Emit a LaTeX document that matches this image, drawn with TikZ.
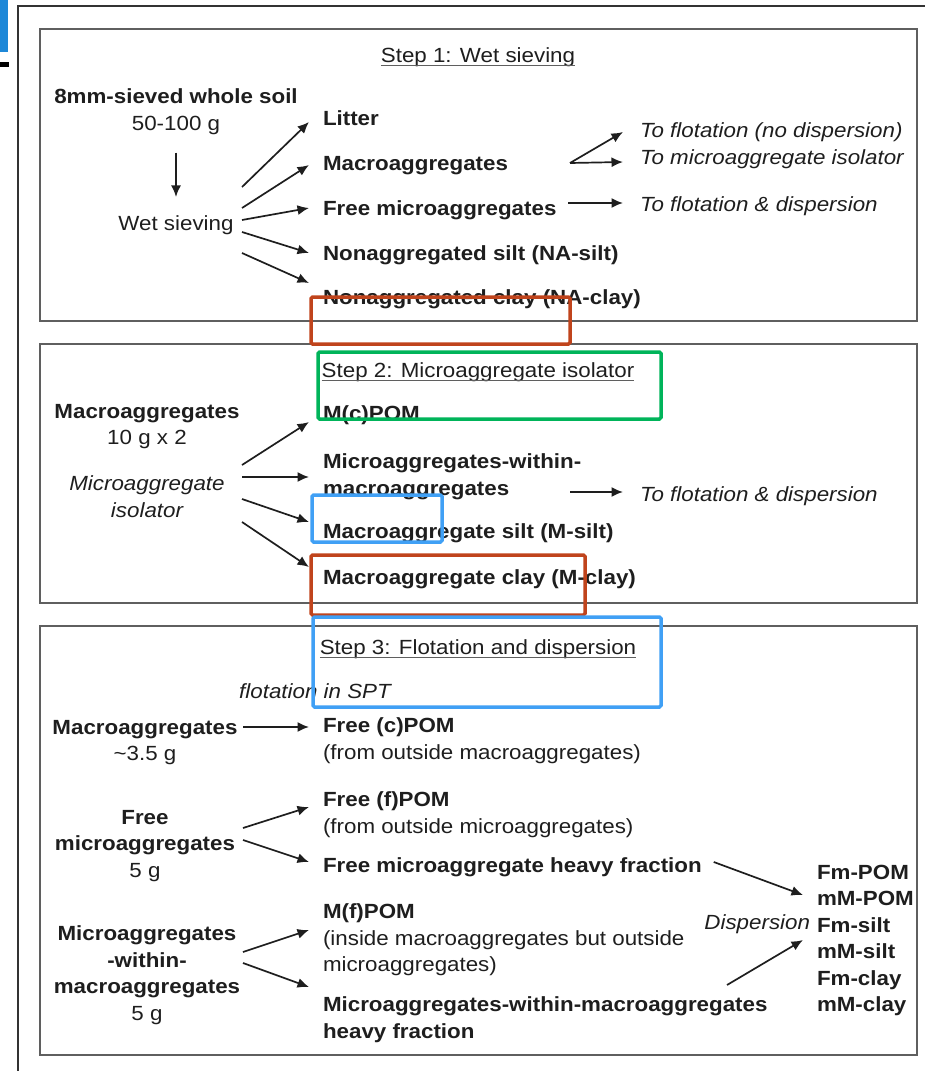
\documentclass[tikz,border=0pt]{standalone}
\usepackage{fontspec}
\setmainfont{Liberation Sans}[FakeStretch=1.09]
\usetikzlibrary{arrows.meta,positioning}

\definecolor{boxgray}{RGB}{95,95,95}
\definecolor{inkgray}{RGB}{30,30,30}
\definecolor{markred}{RGB}{192,68,28}
\definecolor{markgreen}{RGB}{0,180,90}
\definecolor{markblue}{RGB}{64,160,245}
\definecolor{tabblue}{RGB}{30,136,216}

\newcommand{\fsz}{\fontsize{20.5}{26.5}\selectfont}

\begin{document}
\begin{tikzpicture}[x=1pt,y=-1pt,line width=1.7pt]
\tikzstyle{every node} = [inner sep=0pt, outer sep=0pt, font=\fsz, text=inkgray]
\tikzstyle{txt} = [text height=18.8pt, text depth=4.3pt]
\tikzstyle{steptitle} = [text height=18.3pt, text depth=2.5pt]
\tikzstyle{lbl} = [txt, anchor=west, inner xsep=14pt, font=\fsz\bfseries]
\tikzstyle{lblm} = [anchor=north west, align=left, inner xsep=14pt]
\tikzstyle{src} = [anchor=north, align=center]
\tikzstyle{dest} = [txt, anchor=west, inner xsep=14pt, font=\fsz\itshape]
\tikzstyle{fracs} = [anchor=north west, align=left, font=\fsz\bfseries]
\tikzstyle{arr} = [-{Latex[length=11.5pt,width=10pt]}, draw=inkgray]
\tikzstyle{frame} = [draw=boxgray, line width=1.6pt]
\tikzstyle{hilite} = [line width=3.5pt, rounded corners=1.5pt]
\useasboundingbox (0,0) rectangle (925,1071);

% page edge
\fill[tabblue] (0,0) rectangle (8,52);
\fill[black] (0,62) rectangle (9,67);
\draw[line width=1.5pt, black!80] (18,1071) -- (18,6) -- (925,6);

% the three steps
\draw[frame] (40,29) rectangle (917,321);
\draw[frame] (40,344) rectangle (917,603);
\draw[frame] (40,626) rectangle (917,1055);

% step 1
\node[steptitle] (t1) at (478,55) {Step 1: Wet sieving};
\draw[line width=1.2pt, boxgray] (t1.south west) -- (t1.south east);
\node[src] (soil) at (176,89) {\textbf{8mm-sieved whole soil}\\50-100 g};
\node[txt] (wet) at (176,223) {Wet sieving};
\node[lbl] (litter) at (309,118) {Litter};
\node[lbl] (macro) at (309,163) {Macroaggregates};
\node[lbl] (freemic) at (309,208) {Free microaggregates};
\node[lbl] (nasilt) at (309,253) {Nonaggregated silt (NA-silt)};
\node[lbl] (naclay) at (309,297) {Nonaggregated clay (NA-clay)};
\node[dest] (toflot) at (626,130) {To flotation (no dispersion)};
\node[dest] (toiso) at (626,157) {To microaggregate isolator};
\node[dest] (tofd) at (626,204) {To flotation \& dispersion};
\coordinate (w1) at (242,187);
\coordinate (w2) at (242,208);
\coordinate (w3) at (242,220);
\coordinate (w4) at (242,232);
\coordinate (w5) at (242,253);
\coordinate (m1) at (570,163);
\coordinate (f1) at (568,203);

\draw[arr, shorten <=18pt, shorten >=14.5pt] (soil.south) -- (wet.north);
\draw[arr] (w1) -- ([yshift=-4pt]litter.west);
\draw[arr] (w2) -- ([yshift=-2pt]macro.west);
\draw[arr] (w3) -- (freemic.west);
\draw[arr] (w4) -- (nasilt.west);
\draw[arr] (w5) -- ([yshift=14pt]naclay.west);
\draw[arr] (m1) -- ([xshift=-3pt,yshift=-2pt]toflot.west);
\draw[arr] (m1) -- ([xshift=-3pt,yshift=-5pt]toiso.west);
\draw[arr] (f1) -- ([xshift=-3pt,yshift=1pt]tofd.west);

% step 2
\node[steptitle] (t2) at (478,370) {Step 2: Microaggregate isolator};
\draw[line width=1.2pt, boxgray] (t2.south west) -- (t2.south east);
\node[src] (mac2) at (147,404) {\textbf{Macroaggregates}\\10 g x 2};
\node[src, font=\fsz\itshape] (iso) at (147,476) {Microaggregate\\isolator};
\node[lbl] (mcpom) at (309,413) {M(c)POM};
\node[lblm] (mwm) at (309,454) {\textbf{Microaggregates-within-}\\\textbf{macroaggregates}};
\node[lbl] (msilt) at (309,531) {Macroaggregate silt (M-silt)};
\node[lbl] (mclay) at (309,577) {Macroaggregate clay (M-clay)};
\node[dest] (tofd2) at (626,494) {To flotation \& dispersion};
\coordinate (i1) at (242,465);
\coordinate (i2) at (242,477);
\coordinate (i3) at (242,499);
\coordinate (i4) at (242,522);
\coordinate (m2) at (570,492);

\draw[arr] (i1) -- ([yshift=-9pt]mcpom.west);
\draw[arr] (i2) -- ([yshift=-23pt]mwm.north west);
\draw[arr] (i3) -- ([yshift=9pt]msilt.west);
\draw[arr] (i4) -- ([yshift=10pt]mclay.west);
\draw[arr] (m2) -- ([xshift=-3pt,yshift=2pt]tofd2.west);

% step 3
\node[steptitle] (t3) at (478,647) {Step 3: Flotation and dispersion};
\draw[line width=1.2pt, boxgray] (t3.south west) -- (t3.south east);
\node[txt, font=\fsz\itshape] (spt) at (315,691) {flotation in SPT};
\node[src] (mac3) at (145,720) {\textbf{Macroaggregates}\\\textasciitilde3.5 g};
\node[src] (fmic) at (145,810) {\textbf{Free}\\\textbf{microaggregates}\\5 g};
\node[src] (mwm3) at (147,926) {\textbf{Microaggregates}\\\textbf{-within-}\\\textbf{macroaggregates}\\5 g};
\node[lblm] (fcpom) at (309,718) {\textbf{Free (c)POM}\\(from outside macroaggregates)};
\node[lblm] (ffpom) at (309,792) {\textbf{Free (f)POM}\\(from outside microaggregates)};
\node[lbl] (fmhf) at (309,865) {Free microaggregate heavy fraction};
\node[lblm] (mfpom) at (309,904) {\textbf{M(f)POM}\\(inside macroaggregates but outside\\microaggregates)};
\node[lblm] (mwmhf) at (309,997) {\textbf{Microaggregates-within-macroaggregates}\\\textbf{heavy fraction}};
\node[fracs] (fracs) at (817,865) {Fm-POM\\mM-POM\\Fm-silt\\mM-silt\\Fm-clay\\mM-clay};
\node[txt, anchor=east, font=\fsz\itshape] (disp) at (810,922) {Dispersion};
\coordinate (c1) at (243,727);
\coordinate (c2) at (243,828);
\coordinate (c3) at (243,840);
\coordinate (c4) at (243,952);
\coordinate (c5) at (243,963);
\coordinate (c6) at (727,985);

\draw[arr] (c1) -- ([yshift=-9pt]fcpom.north west);
\draw[arr] (c2) -- ([yshift=-15pt]ffpom.north west);
\draw[arr] (c3) -- ([yshift=3pt]fmhf.west);
\draw[arr] (c4) -- ([yshift=-26pt]mfpom.north west);
\draw[arr] (c5) -- ([yshift=10pt]mwmhf.north west);
\draw[arr] ([xshift=-2pt,yshift=3pt]fmhf.east) -- ([xshift=-14pt,yshift=-30pt]fracs.north west);
\draw[arr] (c6) -- ([xshift=-14pt,yshift=-75pt]fracs.north west);

% highlight boxes
\draw[hilite, markred] (311,297) rectangle (570,344);
\draw[hilite, markgreen] (318,352) rectangle (661,419);
\draw[hilite, markblue] (312,495) rectangle (442,542);
\draw[hilite, markred] (311,555) rectangle (585,615);
\draw[hilite, markblue] (313,617) rectangle (661,707);
\end{tikzpicture}
\end{document}
